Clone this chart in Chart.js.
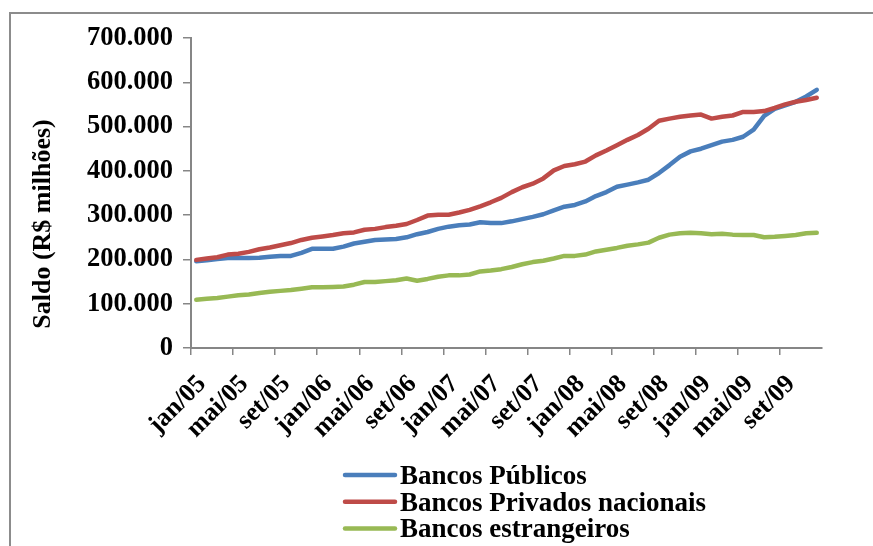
<!DOCTYPE html>
<html>
<head>
<meta charset="utf-8">
<script src="https://cdn.jsdelivr.net/npm/chart.js@4/dist/chart.umd.min.js"></script>
<style>
  html, body { margin: 0; padding: 0; background: #fff; }
  #wrap { width: 873px; height: 546px; position: relative; }
</style>
</head>
<body>
<div id="wrap"><canvas id="chart" width="873" height="546"></canvas></div>
<script>
const meses = ['jan','fev','mar','abr','mai','jun','jul','ago','set','out','nov','dez'];
const anos = ['05','06','07','08','09'];
const labels = [];
anos.forEach(a => meses.forEach(m => labels.push(m + '/' + a)));

// saldo em R$ milhões, jan/05 a dez/09
const publicos = [196000,198000,201000,203000,203000,203000,204000,206000,208000,208000,215000,224000,224000,224000,229000,236000,240000,244000,245000,246000,
  250000,257000,262000,269000,274000,277000,279000,284000,282000,282000,286000,291000,296000,302000,311000,319000,323000,331000,343000,352000,
  364000,369000,374000,380000,395000,413000,432000,444000,450000,458000,466000,470000,477000,493000,524000,540000,548000,556000,568000,583000];
const privados = [199000,202000,205000,211000,213000,217000,223000,227000,232000,237000,244000,249000,252000,255000,259000,261000,267000,269000,273000,276000,
  280000,289000,299000,301000,301000,306000,312000,320000,329000,339000,352000,363000,371000,383000,401000,411000,415000,421000,435000,446000,
  458000,470000,481000,495000,513000,518000,522000,525000,527000,518000,522000,525000,533000,533000,535000,542000,550000,556000,560000,565000];
const estrangeiros = [109000,111000,113000,116000,119000,121000,124000,127000,129000,131000,134000,137000,137000,138000,139000,143000,149000,149000,151000,153000,
  157000,152000,156000,161000,164000,164000,166000,173000,175000,178000,183000,189000,194000,197000,202000,208000,208000,211000,218000,222000,
  226000,231000,234000,238000,249000,256000,259000,260000,259000,257000,258000,256000,255000,255000,250000,251000,253000,255000,259000,260000];

const tituloY = 'Saldo (R$ milhões)';

const serif = '"Liberation Serif", "Times New Roman", serif';
const axisGray = '#868686';

const fmt = v => String(v).replace(/\B(?=(\d{3})+(?!\d))/g, '.');

// legenda em coluna, alinhada à esquerda
const legendaPlugin = {
  id: 'legenda',
  afterDraw(chart) {
    const ctx = chart.ctx;
    ctx.save();
    chart.data.datasets.forEach((ds, i) => {
      const y = 475 + i * 26.7;
      ctx.strokeStyle = ds.borderColor;
      ctx.lineWidth = 4.5;
      ctx.lineCap = 'round';
      ctx.beginPath();
      ctx.moveTo(345, y);
      ctx.lineTo(395, y);
      ctx.stroke();
      ctx.fillStyle = '#000';
      ctx.font = 'bold 27px ' + serif;
      ctx.textBaseline = 'middle';
      ctx.fillText(ds.label, 400, y + 2);
    });
    ctx.restore();
  }
};

// moldura cinza (esquerda e topo) + título do eixo y
const molduraPlugin = {
  id: 'moldura',
  beforeDraw(chart) {
    const ctx = chart.ctx;
    ctx.save();
    ctx.strokeStyle = '#8c8c8c';
    ctx.lineWidth = 2;
    ctx.beginPath();
    ctx.moveTo(10, 546);
    ctx.lineTo(10, 13);
    ctx.lineTo(873, 13);
    ctx.stroke();

    ctx.translate(43, 224);
    ctx.rotate(-Math.PI / 2);
    ctx.fillStyle = '#000';
    ctx.font = 'bold 26px ' + serif;
    ctx.textAlign = 'center';
    ctx.textBaseline = 'middle';
    ctx.fillText(tituloY, 0, 0);
    ctx.restore();
  }
};

new Chart(document.getElementById('chart'), {
  type: 'line',
  data: {
    labels: labels,
    datasets: [
      { label: 'Bancos Públicos', data: publicos, borderColor: '#4a7ebb', order: 3 },
      { label: 'Bancos Privados nacionais', data: privados, borderColor: '#be4b48', order: 2 },
      { label: 'Bancos estrangeiros', data: estrangeiros, borderColor: '#98b954', order: 1 }
    ]
  },
  options: {
    responsive: false,
    animation: false,
    layout: { padding: { top: 38, right: 51, bottom: 0, left: 0 } },
    elements: {
      line: { borderWidth: 4.5, tension: 0, borderCapStyle: 'round', borderJoinStyle: 'round' },
      point: { radius: 0 }
    },
    plugins: {
      legend: { display: false },
      tooltip: { enabled: false }
    },
    scales: {
      x: {
        type: 'category',
        offset: true,
        afterFit: s => { s.height = 198; },
        grid: {
          offset: true,
          drawOnChartArea: false,
          drawTicks: true,
          tickLength: 7,
          lineWidth: 1.5,
          color: c => (c.index % 4 === 0 ? axisGray : 'rgba(0,0,0,0)')
        },
        border: { color: axisGray, width: 2 },
        ticks: {
          autoSkip: false,
          maxRotation: 45,
          minRotation: 45,
          padding: 14,
          labelOffset: 6,
          color: '#000',
          font: { family: serif, size: 26, weight: 'bold' },
          callback: function (v, i) { return i % 4 === 0 ? this.getLabelForValue(v) : ''; }
        }
      },
      y: {
        min: 0,
        max: 700000,
        afterFit: s => { s.width = 191; },
        grid: { drawOnChartArea: false, drawTicks: true, tickLength: 8, color: axisGray, lineWidth: 1.5 },
        border: { color: axisGray, width: 2 },
        ticks: {
          stepSize: 100000,
          padding: 10,
          color: '#000',
          font: { family: serif, size: 26.5, weight: 'bold' },
          callback: v => fmt(v)
        }
      }
    }
  },
  plugins: [molduraPlugin, legendaPlugin]
});
</script>
</body>
</html>
